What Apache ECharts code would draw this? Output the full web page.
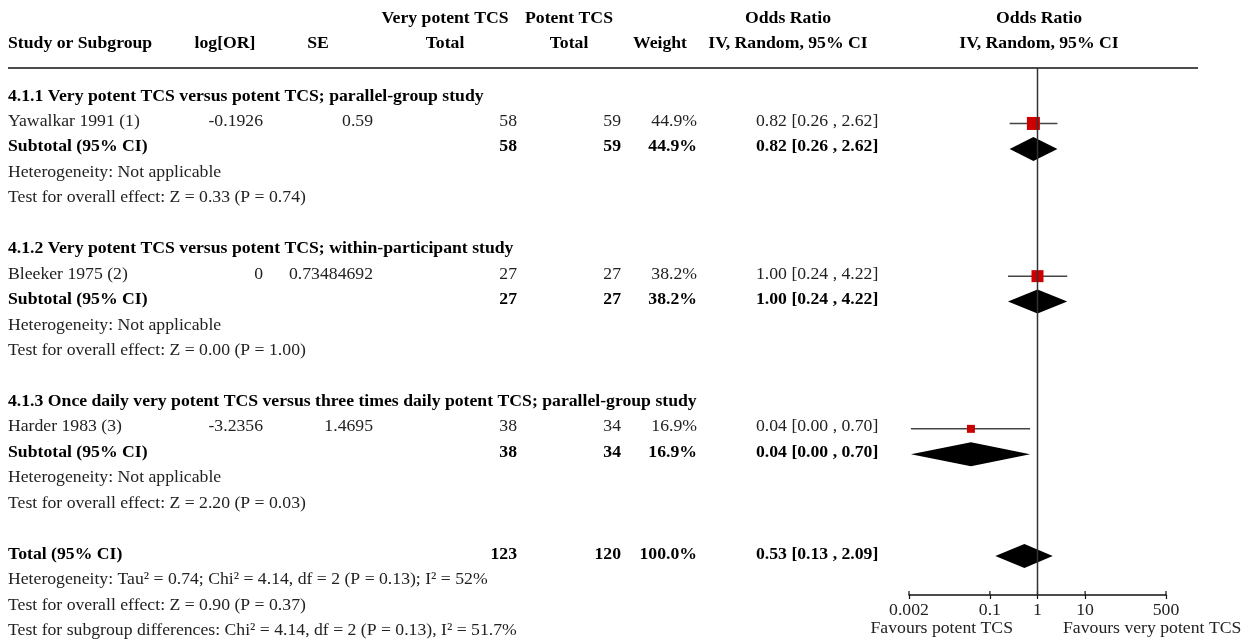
<!DOCTYPE html>
<html>
<head>
<meta charset="utf-8">
<script src="https://cdn.jsdelivr.net/npm/echarts@6/dist/echarts.min.js"></script>
<style>
  html, body { margin: 0; padding: 0; background: #fff; }
  #chart { width: 1251px; height: 640px; }
</style>
</head>
<body>
<div id="chart"></div>
<script>
// ---------- data ----------
const groupHeadings = [
  '4.1.1 Very potent TCS versus potent TCS; parallel-group study',
  '4.1.2 Very potent TCS versus potent TCS; within-participant study',
  '4.1.3 Once daily very potent TCS versus three times daily potent TCS; parallel-group study'
];
const studyNames = ['Yawalkar 1991 (1)', 'Bleeker 1975 (2)', 'Harder 1983 (3)'];
const logOR = ['-0.1926', '0', '-3.2356'];
const seVals = ['0.59', '0.73484692', '1.4695'];
const nVeryPotent = [58, 27, 38];
const nPotent = [59, 27, 34];
const weightPct = [44.9, 38.2, 16.9];
const orEst = [0.82, 1.00, 0.04];
const orLow = [0.26, 0.24, 0.0022];
const orHigh = [2.62, 4.22, 0.70];
const orLabels = ['0.82 [0.26 , 2.62]', '1.00 [0.24 , 4.22]', '0.04 [0.00 , 0.70]'];
const subHeterogeneity = ['Heterogeneity: Not applicable', 'Heterogeneity: Not applicable', 'Heterogeneity: Not applicable'];
const subOverall = [
  'Test for overall effect: Z = 0.33 (P = 0.74)',
  'Test for overall effect: Z = 0.00 (P = 1.00)',
  'Test for overall effect: Z = 2.20 (P = 0.03)'
];
const totalN = [123, 120];
const totalWeight = 100.0;
const totalOR = [0.53, 0.13, 2.09];
const totalLabel = '0.53 [0.13 , 2.09]';
const totalNotes = [
  'Heterogeneity: Tau\u00b2 = 0.74; Chi\u00b2 = 4.14, df = 2 (P = 0.13); I\u00b2 = 52%',
  'Test for overall effect: Z = 0.90 (P = 0.37)',
  'Test for subgroup differences: Chi\u00b2 = 4.14, df = 2 (P = 0.13), I\u00b2 = 51.7%'
];
const xTicks = [0.002, 0.1, 1, 10, 500];
const favoursLabels = ['Favours potent TCS', 'Favours very potent TCS'];
const headerTop = ['Very potent TCS', 'Potent TCS', 'Odds Ratio', 'Odds Ratio'];
const headerBottom = ['Study or Subgroup', 'log[OR]', 'SE', 'Total', 'Total', 'Weight', 'IV, Random, 95% CI', 'IV, Random, 95% CI'];

// ---------- layout ----------
const ROW0 = 98, ROWH = 25.45, TEXT_SHIFT = -2;
const rowY = r => ROW0 + ROWH * r;
const textY = r => rowY(r) + TEXT_SHIFT;
const GRID_TOP = 68, GRID_BOTTOM_Y = 595;
const yMin = (GRID_TOP - ROW0) / ROWH;
const yMax = (GRID_BOTTOM_Y - ROW0) / ROWH;
const FONT = '"Liberation Serif", "Times New Roman", serif';
const FS = 17.7;

const graphics = [];
function txt(s, x, y, align, bold, color) {
  graphics.push({
    type: 'text', x: x, y: y, silent: true,
    style: {
      text: s, align: align, verticalAlign: 'middle',
      fontFamily: FONT, fontSize: FS, fontWeight: bold ? 'bold' : 'normal',
      fill: color || (bold ? '#000' : '#222')
    }
  });
}
// header
txt(headerTop[0], 445, 18, 'center', true);
txt(headerTop[1], 569, 18, 'center', true);
txt(headerTop[2], 788, 18, 'center', true);
txt(headerTop[3], 1039, 18, 'center', true);
txt(headerBottom[0], 8, 43, 'left', true);
txt(headerBottom[1], 225, 43, 'center', true);
txt(headerBottom[2], 318, 43, 'center', true);
txt(headerBottom[3], 445, 43, 'center', true);
txt(headerBottom[4], 569, 43, 'center', true);
txt(headerBottom[5], 687, 43, 'right', true);
txt(headerBottom[6], 788, 43, 'center', true);
txt(headerBottom[7], 1039, 43, 'center', true);
graphics.push({ type: 'line', silent: true, shape: { x1: 8, y1: GRID_TOP, x2: 1198, y2: GRID_TOP },
  style: { stroke: '#111', lineWidth: 1.5 } });

const X_LOG = 263, X_SE = 373, X_N1 = 517, X_N2 = 621, X_W = 697, X_OR = 756;
for (let g = 0; g < 3; g++) {
  const base = g * 6;
  txt(groupHeadings[g], 8, textY(base), 'left', true);
  const ys = textY(base + 1);
  txt(studyNames[g], 8, ys, 'left', false);
  txt(logOR[g], X_LOG, ys, 'right', false);
  txt(seVals[g], X_SE, ys, 'right', false);
  txt(String(nVeryPotent[g]), X_N1, ys, 'right', false);
  txt(String(nPotent[g]), X_N2, ys, 'right', false);
  txt(weightPct[g].toFixed(1) + '%', X_W, ys, 'right', false);
  txt(orLabels[g], X_OR, ys, 'left', false);
  const yt = textY(base + 2);
  txt('Subtotal (95% CI)', 8, yt, 'left', true);
  txt(String(nVeryPotent[g]), X_N1, yt, 'right', true);
  txt(String(nPotent[g]), X_N2, yt, 'right', true);
  txt(weightPct[g].toFixed(1) + '%', X_W, yt, 'right', true);
  txt(orLabels[g], X_OR, yt, 'left', true);
  txt(subHeterogeneity[g], 8, textY(base + 3), 'left', false);
  txt(subOverall[g], 8, textY(base + 4), 'left', false);
}
const yTot = textY(18);
txt('Total (95% CI)', 8, yTot, 'left', true);
txt(String(totalN[0]), X_N1, yTot, 'right', true);
txt(String(totalN[1]), X_N2, yTot, 'right', true);
txt(totalWeight.toFixed(1) + '%', X_W, yTot, 'right', true);
txt(totalLabel, X_OR, yTot, 'left', true);
totalNotes.forEach((s, i) => txt(s, 8, textY(19 + i), 'left', false));
txt(favoursLabels[0], 1013, 628, 'right', false);
txt(favoursLabels[1], 1063, 628, 'left', false);

// ---------- series data ----------
const studyData = studyNames.map((n, i) => [orEst[i], 6 * i + 1, orLow[i], orHigh[i], weightPct[i]]);
const diamondData = studyNames.map((n, i) => [orEst[i], 6 * i + 2, orLow[i], orHigh[i]]);
diamondData.push([totalOR[0], 18, totalOR[1], totalOR[2]]);
const tickData = xTicks.map(v => [v, yMax]);

const chart = echarts.init(document.getElementById('chart'), null, { renderer: 'canvas' });
chart.setOption({
  animation: false,
  backgroundColor: '#fff',
  grid: { left: 909, width: 257, top: GRID_TOP, height: GRID_BOTTOM_Y - GRID_TOP, containLabel: false },
  xAxis: {
    type: 'log', logBase: 10, min: xTicks[0], max: xTicks[xTicks.length - 1], splitLine: { show: false },
    position: 'bottom',
    axisLine: { show: true, onZero: false, lineStyle: { color: '#111', width: 1.5 } },
    axisTick: { show: true, length: 4, inside: false, customValues: xTicks, lineStyle: { color: '#111', width: 1.2 } },
    axisLabel: { show: true, customValues: xTicks, margin: 6, fontFamily: FONT, fontSize: FS, color: '#222',
      formatter: v => String(+Number(v).toPrecision(6)) }
  },
  yAxis: { type: 'value', inverse: true, min: yMin, max: yMax, show: false },
  graphic: graphics,
  series: [
    {
      type: 'custom', name: 'studies', clip: false, z: 3,
      data: studyData,
      renderItem: function (params, api) {
        const y = api.value(1);
        const p = api.coord([api.value(0), y]);
        const l = api.coord([api.value(2), y]);
        const h = api.coord([api.value(3), y]);
        const s = 13 * Math.sqrt(api.value(4) / 44.9);
        return {
          type: 'group',
          children: [
            { type: 'line', shape: { x1: l[0], y1: p[1], x2: h[0], y2: p[1] }, style: { stroke: '#444', lineWidth: 1.5 } },
            { type: 'rect', shape: { x: p[0] - s / 2, y: p[1] - s / 2, width: s, height: s }, style: { fill: '#cc0000' } }
          ]
        };
      }
    },
    {
      type: 'custom', name: 'pooled', clip: false, z: 3,
      data: diamondData,
      renderItem: function (params, api) {
        const y = api.value(1);
        const p = api.coord([api.value(0), y]);
        const l = api.coord([api.value(2), y]);
        const h = api.coord([api.value(3), y]);
        const hh = 12;
        return {
          type: 'polygon',
          shape: { points: [[l[0], p[1]], [p[0], p[1] - hh], [h[0], p[1]], [p[0], p[1] + hh]] },
          style: { fill: '#000' }
        };
      }
    },
    {
      type: 'custom', name: 'tickUp', clip: false, z: 4, silent: true,
      data: tickData,
      renderItem: function (params, api) {
        const p = api.coord([api.value(0), api.value(1)]);
        return { type: 'line', shape: { x1: p[0], y1: p[1] - 4, x2: p[0], y2: p[1] }, style: { stroke: '#111', lineWidth: 1.2 } };
      }
    },
    {
      type: 'line', name: 'null', z: 5, symbol: 'none', silent: true,
      data: [[1, yMin], [1, yMax]],
      lineStyle: { color: '#333', width: 1.5 }
    }
  ]
});
</script>
</body>
</html>
